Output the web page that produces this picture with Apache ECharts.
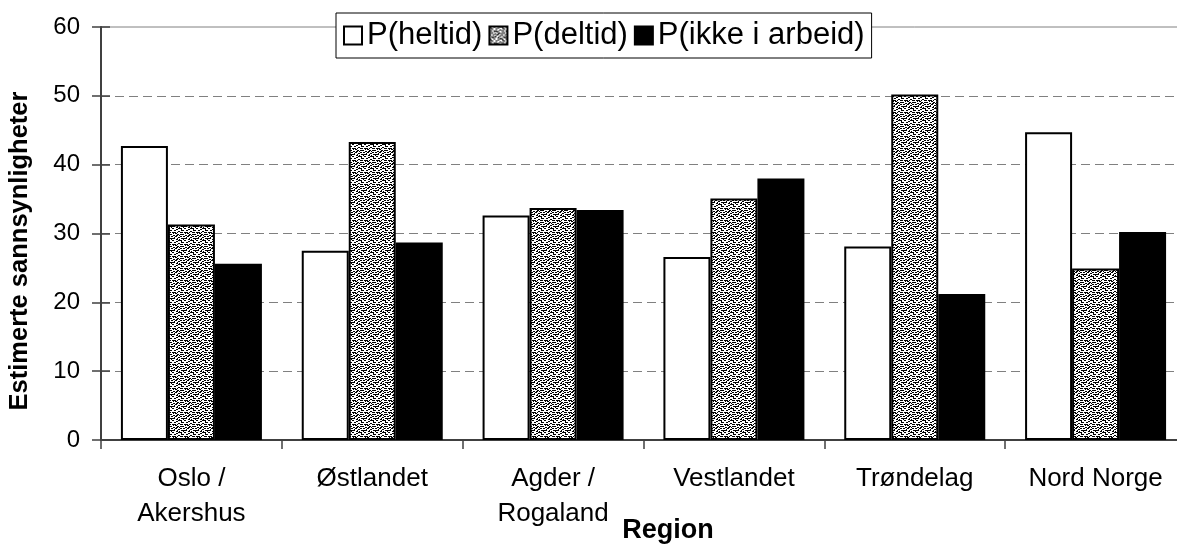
<!DOCTYPE html>
<html>
<head>
<meta charset="utf-8">
<script src="https://cdn.jsdelivr.net/npm/echarts@6/dist/echarts.min.js"></script>
<style>
html,body{margin:0;padding:0;background:#fff;overflow:hidden;}
#chart{width:1186px;height:546px;}
</style>
</head>
<body>
<div id="chart"></div>
<script>
const categories = ['Oslo /\nAkershus', 'Østlandet', 'Agder /\nRogaland', 'Vestlandet', 'Trøndelag', 'Nord Norge'];
const seriesNames = ['P(heltid)', 'P(deltid)', 'P(ikke i arbeid)'];
const heltid = [42.7, 27.5, 32.6, 26.6, 28.1, 44.7];
const deltid = [31.3, 43.3, 33.7, 35.1, 50.2, 24.9];
const ikkeIArbeid = [25.6, 28.7, 33.4, 38.0, 21.2, 30.2];
const yTicks = [0, 10, 20, 30, 40, 50, 60];
const yTitle = 'Estimerte sannsynligheter';
const xTitle = 'Region';

// stipple pattern tile for P(deltid)
function makePattern() {
  const c = document.createElement('canvas');
  c.width = 12; c.height = 12;
  const g = c.getContext('2d');
  g.fillStyle = '#ffffff';
  g.fillRect(0, 0, 12, 12);
  g.fillStyle = '#000000';
  const dots = [
    [0,0],[4,0],[8,1],[2,2],[6,2],[10,3],[0,4],[4,4],[7,5],
    [2,6],[9,6],[5,7],[0,8],[3,8],[7,8],[10,9],[1,10],[5,10],[8,11],[11,11],
    [10,0],[6,4],[0,6],[8,7],[3,10],[1,2]
  ];
  dots.forEach(d => g.fillRect(d[0], d[1], 2, 1));
  const dots2 = [[1,1],[9,4],[6,9],[3,11],[11,7],[5,5],[2,4],[9,10]];
  dots2.forEach(d => g.fillRect(d[0], d[1], 1, 1));
  return c;
}
const pattern = { image: makePattern(), repeat: 'repeat' };

const FONT = "'Liberation Sans', Arial, sans-serif";
const chart = echarts.init(document.getElementById('chart'), null, { renderer: 'canvas' });

const barStyle = (fill) => ({ color: fill, borderColor: '#000', borderWidth: 2 });

chart.setOption({
  animation: false,
  backgroundColor: '#ffffff',
  textStyle: { fontFamily: FONT },
  grid: {
    left: 101, top: 27, right: 0, bottom: 106,
    show: true, borderColor: '#808080', borderWidth: 1, backgroundColor: 'transparent'
  },
  legend: {
    left: 336, top: 13,
    padding: [7, 7],
    itemGap: 6,
    itemWidth: 18, itemHeight: 18,
    icon: 'rect',
    backgroundColor: '#ffffff',
    borderColor: '#000000', borderWidth: 1,
    borderRadius: 0,
    textStyle: { fontSize: 31, color: '#000', fontFamily: FONT },
    data: seriesNames
  },
  xAxis: {
    type: 'category',
    data: categories,
    axisLine: { lineStyle: { color: '#404040', width: 2 } },
    axisTick: { show: true, length: 9, lineStyle: { color: '#404040', width: 1.5 } },
    axisLabel: { fontSize: 26, color: '#000', margin: 21, lineHeight: 35, fontFamily: FONT, interval: 0 },
    splitLine: { show: false }
  },
  yAxis: [{
    type: 'value',
    min: yTicks[0], max: yTicks[yTicks.length - 1], interval: 10,
    axisLine: { show: true, lineStyle: { color: '#404040', width: 2 } },
    axisTick: { show: true, length: 9, lineStyle: { color: '#404040', width: 1.5 } },
    axisLabel: { fontSize: 24, color: '#000', margin: 21, fontFamily: FONT },
    splitLine: { show: true, showMinLine: false, showMaxLine: false,
      lineStyle: { color: '#808080', width: 1, type: [9, 5] } }
  }, {
    type: 'value',
    position: 'left',
    min: yTicks[0], max: yTicks[yTicks.length - 1], interval: 10,
    axisLine: { show: false },
    axisTick: { show: true, inside: true, length: 9, lineStyle: { color: '#404040', width: 1.5 } },
    axisLabel: { show: false },
    splitLine: { show: false }
  }],
  graphic: [{
    type: 'text',
    x: 20, y: 251,
    rotation: Math.PI / 2,
    style: {
      text: yTitle, fontSize: 25.5, fontWeight: 'bold', fill: '#000', fontFamily: FONT,
      align: 'center', verticalAlign: 'middle'
    }
  }, {
    type: 'text',
    x: 668, y: 531,
    style: {
      text: xTitle, fontSize: 27, fontWeight: 'bold', fill: '#000', fontFamily: FONT,
      align: 'center', verticalAlign: 'middle'
    }
  }],
  series: [{
    name: seriesNames[0], type: 'bar', data: heltid,
    barWidth: 47, barGap: '0%',
    itemStyle: barStyle('#ffffff')
  }, {
    name: seriesNames[1], type: 'bar', data: deltid,
    barWidth: 47, barGap: '0%',
    itemStyle: barStyle(pattern)
  }, {
    name: seriesNames[2], type: 'bar', data: ikkeIArbeid,
    barWidth: 47, barGap: '0%',
    itemStyle: barStyle('#000000')
  }]
});
</script>
</body>
</html>
